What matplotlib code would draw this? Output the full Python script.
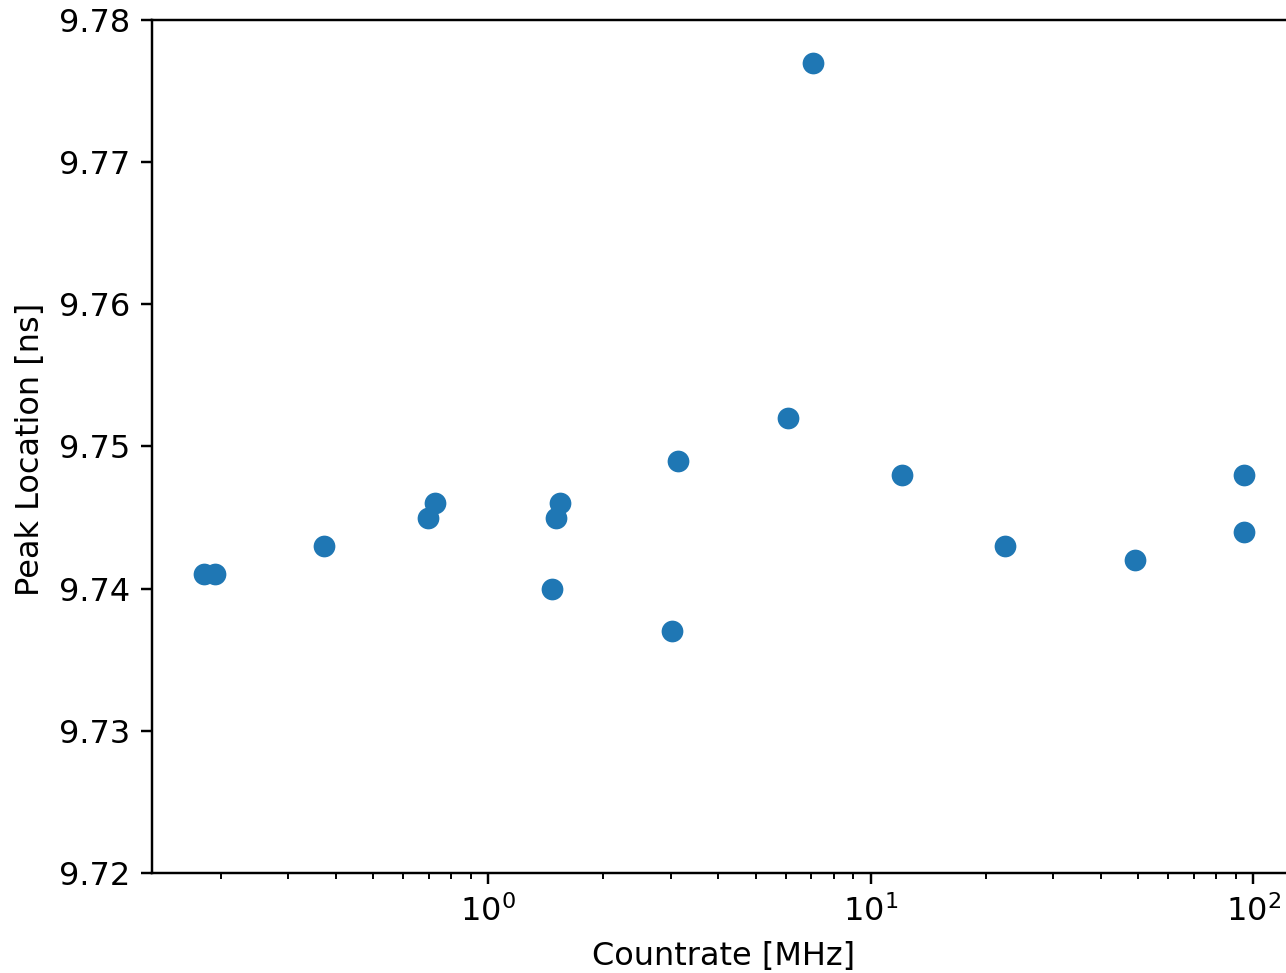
import matplotlib
matplotlib.use("Agg")
import matplotlib.pyplot as plt
import numpy as np

# count rate [MHz] and fitted peak position [ns]
countrate = [0.181, 0.193, 0.373, 0.697, 0.727, 1.469, 1.505, 1.542, 3.02, 3.13,
             6.07, 7.06, 12.05, 22.5, 49.2, 94.8, 94.8]
peak_loc = [9.741, 9.741, 9.743, 9.745, 9.746, 9.740, 9.745, 9.746, 9.737, 9.749,
            9.752, 9.777, 9.748, 9.743, 9.742, 9.748, 9.744]

W, H = 1286, 973
fig = plt.figure(figsize=(W / 100, H / 100), dpi=100)
ax = fig.add_axes([152 / W, 100 / H, 1144 / W, 853 / H])

ax.scatter(countrate, peak_loc, s=245, color='#1f77b4', linewidths=0, zorder=3)

ax.set_xscale('log')
ax.set_xlim(0.1323, 129.3)
ax.set_ylim(9.72, 9.78)
ax.set_yticks(np.arange(9.72, 9.7801, 0.01))
ax.yaxis.set_major_formatter(matplotlib.ticker.FormatStrFormatter('%.2f'))

for s in ax.spines.values():
    s.set_linewidth(1.76)
ax.tick_params(which='major', length=7.7, width=1.76, labelsize=23, pad=8)
ax.tick_params(which='minor', length=4.4, width=1.4)

ax.set_xlabel('Countrate [MHz]', fontsize=23, labelpad=10)
ax.set_ylabel('Peak Location [ns]', fontsize=23)
ax.yaxis.set_label_coords(-0.0925, 0.497)

fig.savefig('out.png', dpi=100)
